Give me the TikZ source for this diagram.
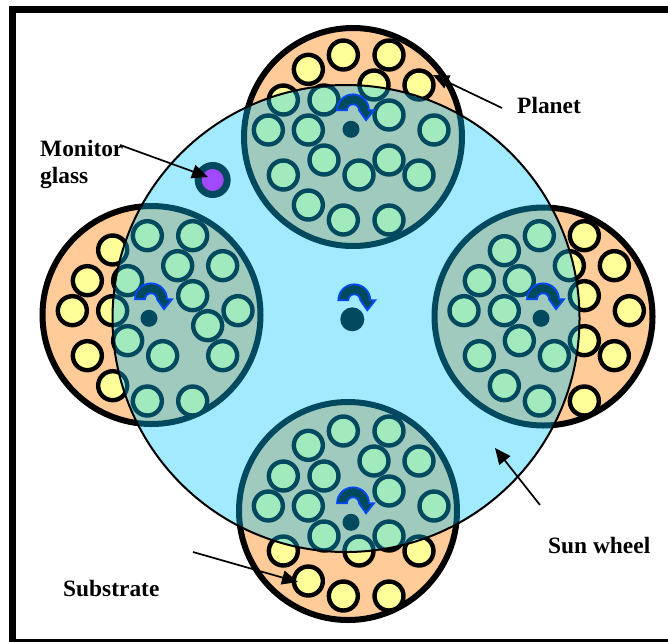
\documentclass[tikz,border=0pt]{standalone}
\usepackage{fontspec}
\setmainfont{Liberation Serif}
\usepackage{tikz}
\usetikzlibrary{arrows.meta}
\definecolor{sunblue}{RGB}{0,200,255}
\definecolor{planetorange}{RGB}{255,204,153}
\definecolor{substrateyellow}{RGB}{255,255,153}
\definecolor{glasspurple}{RGB}{255,0,255}
\definecolor{turnblue}{RGB}{0,0,255}

\begin{document}
\begin{tikzpicture}[
    x=1pt, y=-1pt,
    planet/.style={circle, draw=black, fill=planetorange, line width=6pt, minimum size=218pt, inner sep=0pt},
    substrate/.style={circle, draw=black, fill=substrateyellow, line width=4.4pt, minimum size=29pt, inner sep=0pt},
    hub/.style={circle, fill=black, inner sep=0pt},
    lbl/.style={font=\fontsize{23.4}{27}\selectfont\bfseries, inner sep=0pt, align=left},
    arrow/.style={-{Triangle[length=16pt,width=14pt]}, line width=1.7pt, draw=black},
    turn/.style={fill=black, draw=turnblue, line width=1.7pt}
]
\useasboundingbox (0,0) rectangle (668,641);
\fill[white] (0,0) rectangle (668,641);
\draw[line width=6.6pt] (12.3,9.5) rectangle (675,642);

% planets with their substrates
\foreach \name/\px/\py in {top/353/137, left/151.5/315, right/543.5/316.5, bottom/348/511}{
  \node[planet] (\name) at (\px,\py) {};
}
% substrate centres, read in thirds of a pixel from the corner of each group
\foreach \ox/\oy in {230/10, 230/386}{
  \foreach \cx/\cy in {235/178,340/135,477/135,567/225,432/225,160/270,282/270,477/315,115/360,235/360,612/360,282/450,477/450,160/495,387/495,567/495,235/585,340/630,477/630}{
    \node[substrate] at ({\ox+\cx/3},{\oy+\cy/3}) {};
  }
}
\foreach \cx/\cy in {248/165,352/122,488/122,578/212,443/212,172/257,293/257,488/302,127/347,248/347,624/347,533/392,293/437,172/482,398/482,578/482,248/572,352/618,488/618}{
  \node[substrate] at ({30+\cx/3},{195+\cy/3}) {};
}
\foreach \cx/\cy in {478/122,343/122,568/212,433/212,238/167,163/257,283/257,478/302,117/347,238/347,613/347,478/437,283/437,568/482,388/482,163/482,238/572,343/618,478/618}{
  \node[substrate] at ({425+\cx/3},{195+\cy/3}) {};
}

% monitor glass
\node[circle, draw=black, fill=glasspurple, line width=7pt, minimum size=29pt, inner sep=0pt] (glass) at (212.7,180) {};

% hubs and turning arrows
\foreach \name/\hx/\hy/\hr in {hubsun/352.3/319.3/24, hubtop/351/129.3/17, hubleft/149/318.3/17, hubright/541/318.3/17, hubbottom/351/522.3/17}{
  \node[hub, minimum size=\hr pt] (\name) at (\hx,\hy) {};
  \draw[turn] (\hx-14,\hy-19) arc (180:360:16) -- ++(5,0) -- ++(-8,10) -- ++(-7,-10) arc (360:180:6) -- cycle;
}

% sun wheel
\node[circle, fill=sunblue, fill opacity=0.37, minimum size=467pt, inner sep=0pt] (sun) at (346,318.5) {};
\draw[line width=2pt] (sun.center) circle[radius=233.5];

% labels
\node[lbl, anchor=base west] (planetlbl) at (517,113) {Planet};
\node[lbl, anchor=north west] (monitorlbl) at (40,140) {Monitor\\glass};
\node[lbl, anchor=base west] (sunlbl) at (548,553) {Sun wheel};
\node[lbl, anchor=base west] (substratelbl) at (63,596) {Substrate};

\coordinate (planettail) at (502,108);
\coordinate (planettip) at (433,75);
\coordinate (monitortail) at (120,145);
\coordinate (monitortip) at (208,177);
\coordinate (suntail) at (540,505);
\coordinate (suntip) at (495,448);
\coordinate (substratetail) at (193,552);
\coordinate (substratetip) at (298,582);

\draw[arrow] (planettail) -- (planettip);
\draw[arrow] (monitortail) -- (monitortip);
\draw[arrow] (suntail) -- (suntip);
\draw[arrow] (substratetail) -- (substratetip);
\end{tikzpicture}
\end{document}
